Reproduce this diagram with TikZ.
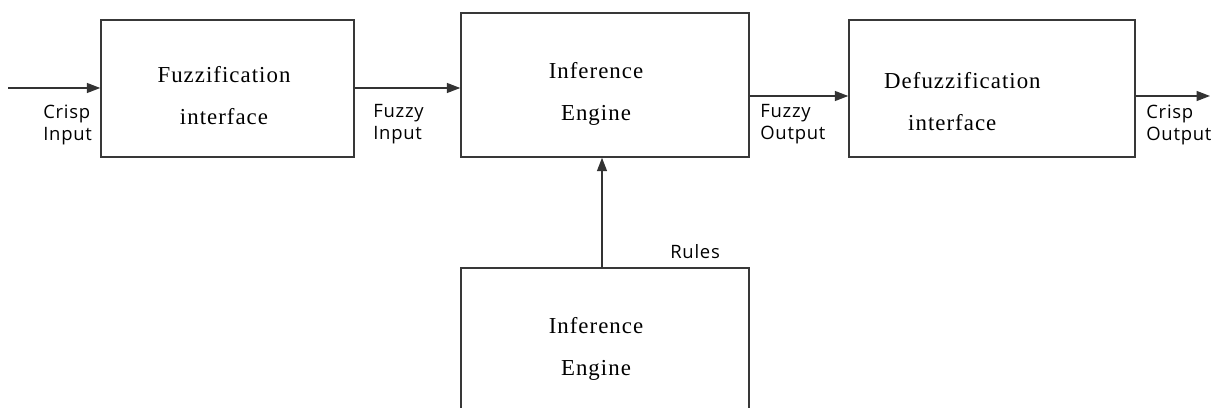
\documentclass[tikz,border=0pt]{standalone}
\usepackage{fontspec}
\setmainfont{Liberation Serif}
\newfontfamily\boxfont[LetterSpace=4.5]{Liberation Serif}
\newfontfamily\lblfont[LetterSpace=4]{Open Sans}
\usetikzlibrary{arrows.meta}

\tikzset{
  block/.style={draw=black!78, line width=0.03cm, inner sep=0pt},
  boxtext/.style={align=center, font=\boxfont\fontsize{13}{23.8}\selectfont},
  sig/.style={align=left, anchor=west, inner sep=0pt,
    font=\lblfont\fontsize{10.5}{12.5}\selectfont},
  flow/.style={draw=black!80, line width=0.03cm,
    -{Triangle[length=0.27cm,width=0.2cm]}}
}

\begin{document}
\begin{tikzpicture}[x=0.02cm,y=-0.02cm]
 \clip (0,0) rectangle (1221,408);
 % blocks
 \node[block, minimum width=5.06cm, minimum height=2.74cm] (fuzz) at (227.5,88.5) {};
 \node[block, minimum width=5.76cm, minimum height=2.88cm] (infer) at (605,85) {};
 \node[block, minimum width=5.72cm, minimum height=2.74cm] (defuzz) at (992,88.5) {};
 \node[block, minimum width=5.76cm, minimum height=3.2cm] (rules) at (605,348) {};
 \node[boxtext] (fuzz-t) at (224,95.5) {Fuzzification\\interface};
 \node[boxtext] (infer-t) at (596,94) {Inference\\Engine};
 \node[boxtext, align=left, anchor=west] (defuzz-t) at (878,101.5)
  {Defuzzification\\\hspace*{0.48cm}interface};
 \node[boxtext] (rules-t) at (596,349) {Inference\\Engine};
 % signals
 \coordinate (in) at (8,88);
 \coordinate (out) at (1210,96);
 \coordinate (r) at (602,268);
 \draw[flow] (in) -- (in -| fuzz.west);
 \draw[flow] (fuzz.east |- in) -- (infer.west |- in);
 \draw[flow] (infer.east |- out) -- (defuzz.west |- out);
 \draw[flow] (defuzz.east |- out) -- (out);
 \draw[flow] (r) -- (r |- infer.south);
 \node[sig] (crisp-in) at (43,124.5) {Crisp\\Input};
 \node[sig] (fuzzy-in) at (373,124.5) {Fuzzy\\Input};
 \node[sig] (fuzzy-out) at (760,124.5) {Fuzzy\\Output};
 \node[sig] (crisp-out) at (1146,124.5) {Crisp\\Output};
 \node[sig] (rules-l) at (670,252) {Rules};
\end{tikzpicture}
\end{document}
